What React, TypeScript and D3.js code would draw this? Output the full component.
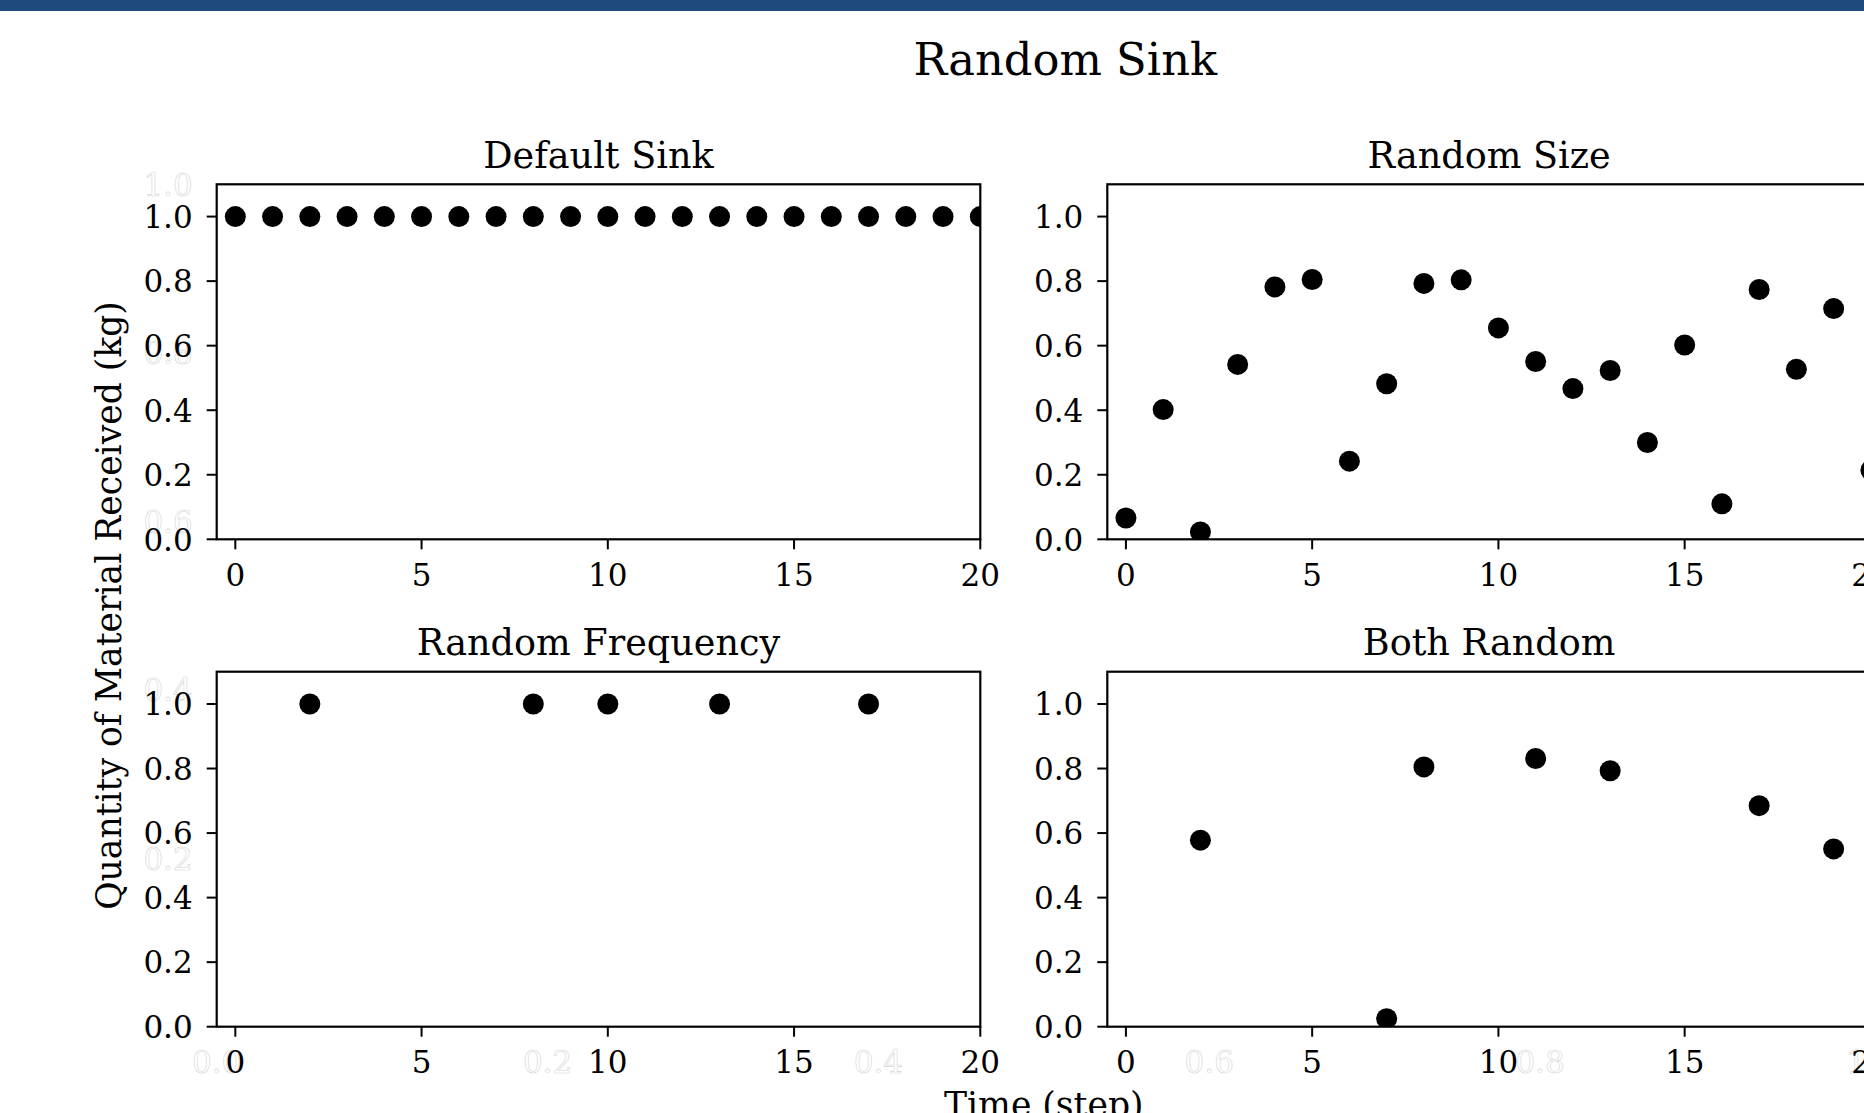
import React from 'react';
import {scaleLinear} from 'd3';

// values
const steps=[0,1,2,3,4,5,6,7,8,9,10,11,12,13,14,15,16,17,18,19,20];
const defaultSink=[1,1,1,1,1,1,1,1,1,1,1,1,1,1,1,1,1,1,1,1,1];
const randomSize=[0.066,0.402,0.023,0.542,0.782,0.805,0.242,0.482,0.793,0.804,0.655,0.551,0.467,0.523,0.300,0.602,0.110,0.774,0.527,0.715,0.214];
const freqSteps=[2,8,10,13,17];
const freqValues=[1,1,1,1,1];
const bothSteps=[2,7,8,11,13,17,19];
const bothValues=[0.578,0.025,0.805,0.831,0.793,0.685,0.551];

const xTicks=[0,5,10,15,20];
const yTicks=[0,0.2,0.4,0.6,0.8,1.0];
const ghostTicks=[0,0.2,0.4,0.6,0.8,1.0];

const panels=[
  {title:"Default Sink",xs:steps,ys:defaultSink,col:0,row:0},
  {title:"Random Size",xs:steps,ys:randomSize,col:1,row:0},
  {title:"Random Frequency",xs:freqSteps,ys:freqValues,col:0,row:1},
  {title:"Both Random",xs:bothSteps,ys:bothValues,col:1,row:1},
];

const W=1864, H=1113;
const font="DejaVu Serif";
const colLeft=[216.7,1107.3];
const rowTop=[184.3,671.7];
const axW=763.6, axH=355;
const tickLen=10, pad=14, tickFs=31, capH=22.6;
const ghost={fill:"#fff",stroke:"#d4d4d4",strokeWidth:0.6};

const Panel=({p,i}:{p:any,i:number})=>{
  const left=colLeft[p.col], top=rowTop[p.row];
  const x=scaleLinear().domain([-0.5,20]).range([0,axW]);
  const y=scaleLinear().domain([0,1.1]).range([axH,0]);
  return (
    <g transform={`translate(${left},${top})`}>
      <defs>
        <clipPath id={`clip${i}`}><rect x={0} y={0} width={axW} height={axH}/></clipPath>
      </defs>
      <g clipPath={`url(#clip${i})`}>
        {p.xs.map((d:number,j:number)=>(
          <circle key={j} cx={x(d)} cy={y(p.ys[j])} r={10.5} fill="#000"/>
        ))}
      </g>
      <rect x={0} y={0} width={axW} height={axH} fill="none" stroke="#000" strokeWidth={2.2}/>
      {xTicks.map(t=>(
        <g key={t} transform={`translate(${x(t)},${axH})`}>
          <line y1={0} y2={tickLen} stroke="#000" strokeWidth={2}/>
          <text y={tickLen+pad+capH} textAnchor="middle" fontFamily={font} fontSize={tickFs}>{t}</text>
        </g>
      ))}
      {yTicks.map(t=>(
        <g key={t} transform={`translate(0,${y(t)})`}>
          <line x1={0} x2={-tickLen} stroke="#000" strokeWidth={2}/>
          <text x={-tickLen-pad} y={capH/2} textAnchor="end" fontFamily={font} fontSize={tickFs}>{t.toFixed(1)}</text>
        </g>
      ))}
      <text x={axW/2} y={-16.7} textAnchor="middle" fontFamily={font} fontSize={36.6}>{p.title}</text>
    </g>
  );
};

export default function App(){
  // the big frameless axes behind the subplots
  const bigLeft=colLeft[0], bigRight=colLeft[1]+axW;
  const bigTop=rowTop[0], bigBottom=rowTop[1]+axH;
  const gx=scaleLinear().domain([0,1]).range([bigLeft,bigRight]);
  const gy=scaleLinear().domain([0,1]).range([bigBottom,bigTop]);
  return (
    <svg width={W} height={H} style={{position:"absolute",left:0,top:0,background:"#fff"}}>
      <rect x={0} y={0} width={W} height={11} fill="#1f4a7e"/>
      <g>
        {ghostTicks.map(t=>(
          <text key={"gy"+t} x={bigLeft-tickLen-pad} y={gy(t)+capH/2} textAnchor="end" fontFamily={font} fontSize={tickFs} {...ghost}>{t.toFixed(1)}</text>
        ))}
        {ghostTicks.map(t=>(
          <text key={"gx"+t} x={gx(t)} y={bigBottom+tickLen+pad+capH} textAnchor="middle" fontFamily={font} fontSize={tickFs} {...ghost}>{t.toFixed(1)}</text>
        ))}
      </g>
      {panels.map((p,i)=><Panel key={i} p={p} i={i}/>)}
      <text x={1065.3} y={75} textAnchor="middle" fontFamily={font} fontSize={44.8}>Random Sink</text>
      <text transform={`translate(121,${(bigTop+bigBottom)/2}) rotate(-90)`} textAnchor="middle" fontFamily={font} fontSize={34.6}>Quantity of Material Received (kg)</text>
      <text x={(bigLeft+bigRight)/2} y={1117} textAnchor="middle" fontFamily={font} fontSize={34.6}>Time (step)</text>
    </svg>
  );
}
